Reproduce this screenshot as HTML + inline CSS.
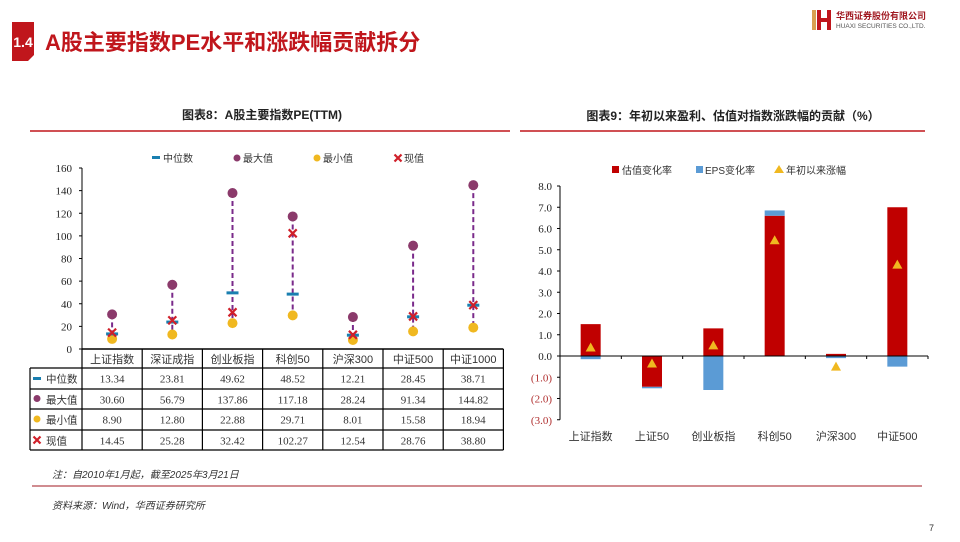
<!DOCTYPE html>
<html><head><meta charset="utf-8"><style>
html,body{margin:0;padding:0;background:#fff;width:960px;height:542px;overflow:hidden}
svg{display:block;font-family:"Liberation Serif","Noto Serif CJK SC",serif}
.cjk{font-family:"Liberation Sans","Noto Sans CJK SC",sans-serif}
</style></head><body>
<svg id="page" width="960" height="542" viewBox="0 0 960 542">
<g>
  <path d="M12 22 H34 V55 L28 61 H12 Z" fill="#c0161c"/>
  <text x="23" y="47" fill="#fff" font-size="14" font-weight="bold" text-anchor="middle" class="cjk">1.4</text>
  <text x="45" y="50" fill="#c0161c" font-size="22" font-weight="bold" class="cjk">A股主要指数PE水平和涨跌幅贡献拆分</text>
  <g>
    <rect x="812" y="10" width="4" height="20" fill="#d9a050"/>
    <path d="M817 10 h4 v8 h6 v-8 h4 v20 h-4 v-8 h-6 v8 h-4z" fill="#c0161c"/>
    <text x="836" y="19" font-size="9" fill="#a01820" class="cjk" font-weight="bold">华西证券股份有限公司</text>
    <text x="836" y="28" font-size="6.5" fill="#555" class="cjk">HUAXI SECURITIES CO.,LTD.</text>
  </g>
</g>
<text x="262" y="119" font-size="12" font-weight="bold" text-anchor="middle" class="cjk" fill="#222">图表8：A股主要指数PE(TTM)</text>
<line x1="30" y1="131" x2="510" y2="131" stroke="#c0161c" stroke-width="1.5"/>
<text x="733" y="120" font-size="12" font-weight="bold" text-anchor="middle" class="cjk" fill="#222">图表9：年初以来盈利、估值对指数涨跌幅的贡献（%）</text>
<line x1="520" y1="131" x2="925" y2="131" stroke="#c0161c" stroke-width="1.5"/>
<g id="left"></g>
<g id="right"></g>
<text x="52" y="478" font-size="10" font-style="italic" class="cjk" fill="#333">注：自2010年1月起，截至2025年3月21日</text>
<line x1="32" y1="486" x2="922" y2="486" stroke="#a01820" stroke-width="1"/>
<text x="52" y="509" font-size="10" font-style="italic" class="cjk" fill="#333">资料来源：Wind，华西证券研究所</text>
<text x="929" y="531" font-size="9" class="cjk" fill="#333">7</text>
</svg>
<script>
const NS="http://www.w3.org/2000/svg";
function mk(tag,attrs,parent,txt){const e=document.createElementNS(NS,tag);for(const k in attrs)e.setAttribute(k,attrs[k]);if(txt!==undefined)e.textContent=txt;parent.appendChild(e);return e;}
function cross(x,y,s,parent){const d=`M${x-s} ${y-s} L${x+s} ${y+s} M${x+s} ${y-s} L${x-s} ${y+s}`;return mk('path',{d:d,stroke:'#d0202a','stroke-width':2.2,fill:'none'},parent);}

const peCats=["上证指数","深证成指","创业板指","科创50","沪深300","中证500","中证1000"];
const peMedian=[13.34,23.81,49.62,48.52,12.21,28.45,38.71];
const peMax=[30.60,56.79,137.86,117.18,28.24,91.34,144.82];
const peMin=[8.90,12.80,22.88,29.71,8.01,15.58,18.94];
const peNow=[14.45,25.28,32.42,102.27,12.54,28.76,38.80];
const peTicks=[0,20,40,60,80,100,120,140,160];

const L=document.getElementById('left');
const lx0=82,colW=60.2,ly0=349,ly1=168;
const ly=v=>ly0-(v/160)*(ly0-ly1);
const lx=i=>lx0+colW*(i+0.5);
mk('line',{x1:lx0,y1:ly1,x2:lx0,y2:ly0,stroke:'#000'},L);
peTicks.forEach(t=>{
  mk('line',{x1:lx0-3,y1:ly(t),x2:lx0,y2:ly(t),stroke:'#000'},L);
  const tx=mk('text',{x:lx0-10,y:ly(t)+4,'font-size':11,'text-anchor':'end',fill:'#222'},L,t);
  
  
});
peCats.forEach((c,i)=>{
  const x=lx(i);
  const ln=mk('line',{x1:x,y1:ly(peMax[i]),x2:x,y2:ly(peMin[i]),stroke:'#7a2a8a','stroke-width':2,'stroke-dasharray':'5,3'},L);
  
  
  const mx=mk('circle',{cx:x,cy:ly(peMax[i]),r:5,fill:'#8b3a6b'},L);
  
  
  const mn=mk('circle',{cx:x,cy:ly(peMin[i]),r:5,fill:'#f0b820'},L);
  
  
  const md=mk('rect',{x:x-6,y:ly(peMedian[i])-1.5,width:12,height:3,fill:'#1a7fb0'},L);
  
  
  const nw=cross(x,ly(peNow[i]),4,L);
  
  
});
const lg=mk('g',{},L);


mk('rect',{x:152,y:156,width:8,height:3,fill:'#1a7fb0'},lg);
mk('text',{x:163,y:162,'font-size':10,class:'cjk',fill:'#333'},lg,'中位数');
mk('circle',{cx:237,cy:158,r:3.5,fill:'#8b3a6b'},lg);
mk('text',{x:243,y:162,'font-size':10,class:'cjk',fill:'#333'},lg,'最大值');
mk('circle',{cx:317,cy:158,r:3.5,fill:'#f0b820'},lg);
mk('text',{x:323,y:162,'font-size':10,class:'cjk',fill:'#333'},lg,'最小值');
cross(398,158,3.5,lg);
mk('text',{x:404,y:162,'font-size':10,class:'cjk',fill:'#333'},lg,'现值');
const tb=mk('g',{},L);


const rowsY=[349,368,389,409,430,450];
const tx0=30,tx1=lx0+colW*7;
mk('line',{x1:lx0,y1:349,x2:tx1,y2:349,stroke:'#000','stroke-width':1.5},tb);
for(let r=1;r<rowsY.length;r++)mk('line',{x1:tx0,y1:rowsY[r],x2:tx1,y2:rowsY[r],stroke:'#000','stroke-width':1.2},tb);
mk('line',{x1:tx0,y1:368,x2:tx0,y2:450,stroke:'#000','stroke-width':1.2},tb);
for(let i=0;i<=7;i++)mk('line',{x1:lx0+colW*i,y1:349,x2:lx0+colW*i,y2:450,stroke:'#000','stroke-width':1.2},tb);
peCats.forEach((c,i)=>{
  const t=mk('text',{x:lx(i),y:363,'font-size':11,'text-anchor':'middle',class:'cjk',fill:'#333'},tb,c);
  
  
});
const rowsData=[peMedian,peMax,peMin,peNow];
const rowLabels=['中位数','最大值','最小值','现值'];
rowsData.forEach((arr,r)=>{
  const cy=rowsY[r+1]+14.5;
  mk('text',{x:46,y:cy,'font-size':10.5,class:'cjk',fill:'#333'},tb,rowLabels[r]);
  arr.forEach((v,i)=>{
    const t=mk('text',{x:lx(i),y:cy,'font-size':11,'text-anchor':'middle',fill:'#333'},tb,v.toFixed(2));
    
    
  });
});
mk('rect',{x:33,y:377,width:8,height:3,fill:'#1a7fb0'},tb);
mk('circle',{cx:37,cy:398.5,r:3.5,fill:'#8b3a6b'},tb);
mk('circle',{cx:37,cy:419,r:3.5,fill:'#f0b820'},tb);
cross(37,440,3.5,tb);

const ctCats=["上证指数","上证50","创业板指","科创50","沪深300","中证500"];
const valChange=[1.5,-1.45,1.3,6.6,0.1,7.0];
const epsChange=[-0.15,-0.07,-1.6,0.25,-0.1,-0.5];
const ytdRise=[0.4,-0.35,0.5,5.45,-0.5,4.3];
const ctTicks=[-3,-2,-1,0,1,2,3,4,5,6,7,8];

const R=document.getElementById('right');
const rx0=560,rx1=928,ry0=356,unit=(ry0-186)/8;
const ry=v=>ry0-v*unit;
const cw=(rx1-rx0)/6;
const rx=i=>rx0+cw*(i+0.5);
mk('line',{x1:rx0,y1:ry(8),x2:rx0,y2:ry(-3),stroke:'#000'},R);
ctTicks.forEach(t=>{
  mk('line',{x1:rx0-3,y1:ry(t),x2:rx0,y2:ry(t),stroke:'#000'},R);
  const lab=t<0?'('+Math.abs(t).toFixed(1)+')':t.toFixed(1);
  const e=mk('text',{x:rx0-8,y:ry(t)+4,'font-size':11,'text-anchor':'end',fill:t<0?'#b03030':'#222'},R,lab);
  
  
});
const bw=20;
ctCats.forEach((c,i)=>{
  const x=rx(i);
  const v=valChange[i],e=epsChange[i];
  const vb=mk('rect',{x:x-bw/2,y:Math.min(ry(v),ry(0)),width:bw,height:Math.abs(ry(v)-ry(0)),fill:'#c00000'},R);
  
  
  let base=0;
  if((e>=0&&v>=0)||(e<0&&v<0))base=v;
  const eb=mk('rect',{x:x-bw/2,y:Math.min(ry(base+e),ry(base)),width:bw,height:Math.abs(ry(base+e)-ry(base)),fill:'#5b9bd5'},R);
  
  
  const yv=ry(ytdRise[i]);
  const tr=mk('path',{d:`M${x} ${yv-5} L${x+5} ${yv+4} L${x-5} ${yv+4} Z`,fill:'#f0b820'},R);
  
  
  const t=mk('text',{x:x,y:440,'font-size':11,'text-anchor':'middle',class:'cjk',fill:'#333'},R,c);
  
  
});
mk('line',{x1:rx0,y1:ry0,x2:rx1,y2:ry0,stroke:'#000'},R);
for(let i=0;i<=6;i++)mk('line',{x1:rx0+cw*i,y1:ry0,x2:rx0+cw*i,y2:ry0+3,stroke:'#000'},R);
const lg2=mk('g',{},R);


mk('rect',{x:612,y:166,width:7,height:7,fill:'#c00000'},lg2);
mk('text',{x:622,y:174,'font-size':10,class:'cjk',fill:'#333'},lg2,'估值变化率');
mk('rect',{x:696,y:166,width:7,height:7,fill:'#5b9bd5'},lg2);
mk('text',{x:705,y:174,'font-size':10,class:'cjk',fill:'#333'},lg2,'EPS变化率');
mk('path',{d:'M779 165 L784 173 L774 173 Z',fill:'#f0b820'},lg2);
mk('text',{x:786,y:174,'font-size':10,class:'cjk',fill:'#333'},lg2,'年初以来涨幅');
</script>
</body></html>
